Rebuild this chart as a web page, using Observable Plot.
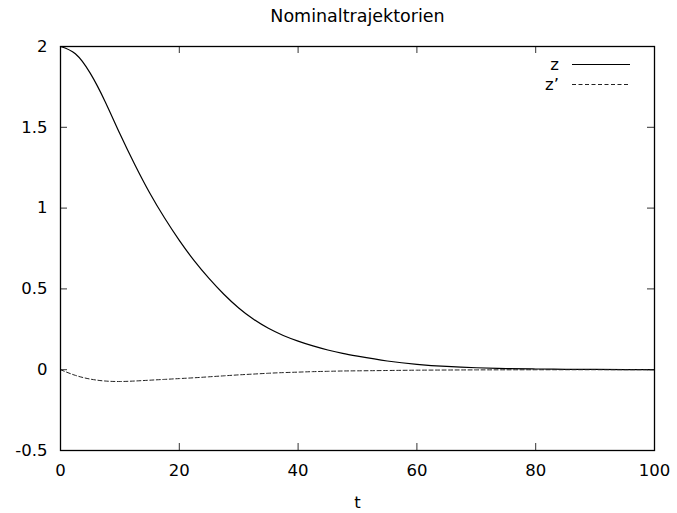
<!DOCTYPE html>
<html><head><meta charset="utf-8">
<script src="https://cdn.jsdelivr.net/npm/d3@7"></script>
<script src="https://cdn.jsdelivr.net/npm/@observablehq/plot@0.6"></script>
<style>body{margin:0;background:#fff}</style>
</head><body><div id="chart"></div>
<script>
// Data
const tValues = [0, 2.5, 5, 7.5, 10, 12.5, 15, 17.5, 20, 22.5, 25, 27.5, 30, 32.5, 35, 37.5, 40, 42.5, 45, 47.5, 50, 55, 60, 65, 70, 75, 80, 85, 90, 95, 100];
const zValues = [2.0, 1.955, 1.835, 1.66, 1.46, 1.27, 1.095, 0.94, 0.80, 0.675, 0.565, 0.467, 0.382, 0.312, 0.256, 0.212, 0.177, 0.147, 0.122, 0.101, 0.084, 0.054, 0.033, 0.020, 0.012, 0.0072, 0.0043, 0.0026, 0.0016, 0.001, 0.0006];
const zpValues = [0, -0.035, -0.058, -0.070, -0.073, -0.070, -0.065, -0.060, -0.055, -0.050, -0.044, -0.038, -0.032, -0.027, -0.022, -0.018, -0.015, -0.012, -0.010, -0.008, -0.007, -0.005, -0.003, -0.002, -0.0012, -0.0007, -0.0004, -0.0002, -0.0001, 0, 0];
const seriesNames = ["z", "z\u2019"];
const xTicks = [0, 20, 40, 60, 80, 100];
const yTicks = [-0.5, 0, 0.5, 1, 1.5, 2];
const titleText = "Nominaltrajektorien";
const xLabelText = "t";

const zData = tValues.map((t, i) => ({t, v: zValues[i]}));
const zpData = tValues.map((t, i) => ({t, v: zpValues[i]}));

const W = 677, H = 513, mL = 60, mR = 23, mT = 46, mB = 63;
const innerW = W - mL - mR, innerH = H - mT - mB;
const tickLen = 7;
const font = "'DejaVu Sans', 'Liberation Sans', Arial, sans-serif";
const fs = 16.5;
const fsTitle = 17.5;
const styles = [
  {stroke: "black", strokeWidth: 1.2, dash: null},
  {stroke: "#222", strokeWidth: 1, dash: "4,2.5"}
];

const legend = (index, scales, values, dims) => {
  const g = d3.create("svg:g").attr("font-family", font).attr("font-size", fs);
  const right = dims.width - dims.marginRight;
  seriesNames.forEach((name, i) => {
    const y = dims.marginTop + 18.5 + 20 * i;
    g.append("text").attr("x", right - 95).attr("y", y).attr("dy", "0.32em")
      .attr("text-anchor", "end").attr("fill", "black").text(name);
    g.append("line").attr("x1", right - 82).attr("x2", right - 24)
      .attr("y1", y).attr("y2", y)
      .attr("stroke", styles[i].stroke).attr("stroke-width", styles[i].strokeWidth)
      .attr("stroke-dasharray", styles[i].dash);
  });
  return g.node();
};

const chart = Plot.plot({
  width: W, height: H,
  marginLeft: mL, marginRight: mR, marginTop: mT, marginBottom: mB,
  style: {fontFamily: font, fontSize: fs + "px", background: "white", color: "black"},
  x: {domain: [0, 100]},
  y: {domain: [-0.5, 2]},
  marks: [
    Plot.axisX({ticks: xTicks, tickSize: 0, tickPadding: 14, fontSize: fs, label: null, tickFormat: d => String(d)}),
    Plot.axisY({ticks: yTicks, tickSize: 0, tickPadding: 13, fontSize: fs, label: null, tickFormat: d => String(d)}),
    Plot.tickX(xTicks, {x: d => d, insetTop: innerH - tickLen, stroke: "#333"}),
    Plot.tickX(xTicks, {x: d => d, insetBottom: innerH - tickLen, stroke: "#333"}),
    Plot.tickY(yTicks, {y: d => d, insetRight: innerW - tickLen, stroke: "#333"}),
    Plot.tickY(yTicks, {y: d => d, insetLeft: innerW - tickLen, stroke: "#333"}),
    Plot.line(zData, {x: "t", y: "v", stroke: styles[0].stroke, strokeWidth: styles[0].strokeWidth, curve: "natural"}),
    Plot.line(zpData, {x: "t", y: "v", stroke: styles[1].stroke, strokeWidth: styles[1].strokeWidth, strokeDasharray: styles[1].dash, curve: "natural"}),
    Plot.frame({stroke: "black", strokeWidth: 1.3}),
    Plot.text([titleText], {frameAnchor: "top", dy: -30, fontSize: fsTitle, lineAnchor: "middle"}),
    Plot.text([xLabelText], {frameAnchor: "bottom", dy: 52, fontSize: fs, lineAnchor: "middle"}),
    legend
  ]
});
document.getElementById("chart").appendChild(chart);
</script>
</body></html>
